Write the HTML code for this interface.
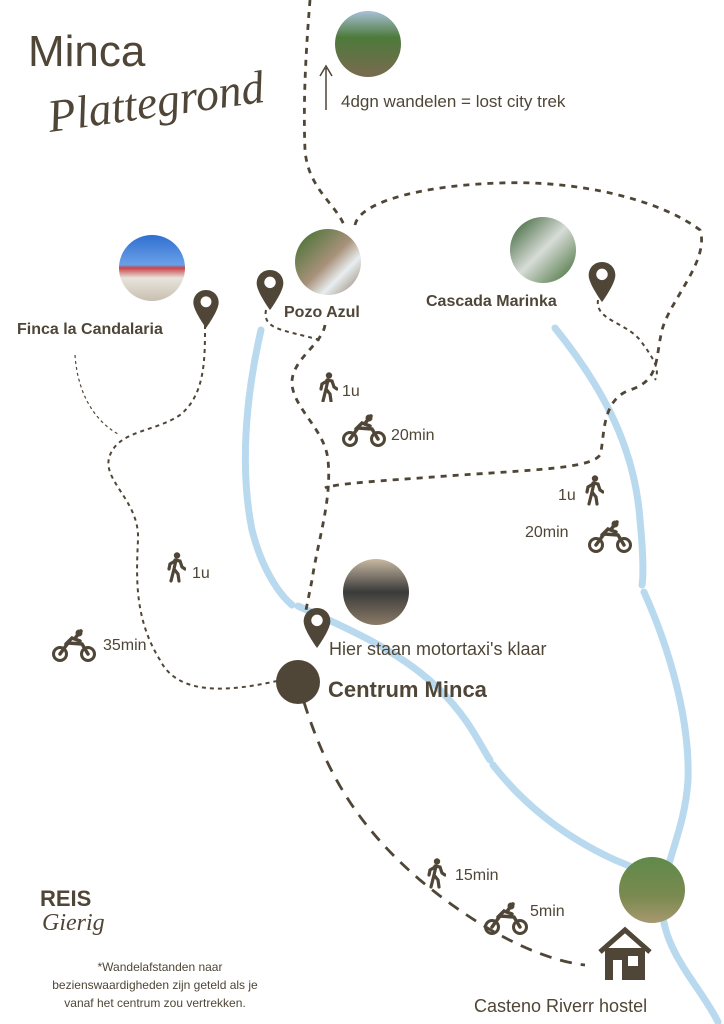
<!DOCTYPE html>
<html><head><meta charset="utf-8"><style>
body{margin:0;background:#fff}
svg{display:block}
text{font-family:"Liberation Sans",sans-serif;fill:#4f4637}
</style></head><body>
<svg width="724" height="1024" viewBox="0 0 724 1024" xmlns="http://www.w3.org/2000/svg">
<defs>
<linearGradient id="g1" x1="0" y1="0" x2="0" y2="1"><stop offset="0" stop-color="#2f6fd0"/><stop offset=".45" stop-color="#6aa0e8"/><stop offset=".5" stop-color="#c8454a"/><stop offset=".65" stop-color="#e8e4dc"/><stop offset="1" stop-color="#c8bfb0"/></linearGradient>
<linearGradient id="g2" x1="0" y1="0" x2="1" y2="1"><stop offset="0" stop-color="#3b6e2c"/><stop offset=".5" stop-color="#a8917a"/><stop offset=".7" stop-color="#e8eef0"/><stop offset="1" stop-color="#8a7560"/></linearGradient>
<linearGradient id="g3" x1="0" y1="0" x2="1" y2="1"><stop offset="0" stop-color="#2e5a2a"/><stop offset=".5" stop-color="#d8dcd8"/><stop offset="1" stop-color="#3c6a30"/></linearGradient>
<linearGradient id="g4" x1="0" y1="0" x2="0" y2="1"><stop offset="0" stop-color="#c8b9a2"/><stop offset=".5" stop-color="#3a3a3a"/><stop offset="1" stop-color="#8a7b66"/></linearGradient>
<linearGradient id="g5" x1="0" y1="0" x2="0" y2="1"><stop offset="0" stop-color="#a8c0d8"/><stop offset=".4" stop-color="#4d7a3a"/><stop offset="1" stop-color="#7a6a50"/></linearGradient>
<linearGradient id="g6" x1="0" y1="0" x2="0" y2="1"><stop offset="0" stop-color="#5f8a4a"/><stop offset=".6" stop-color="#7a8a50"/><stop offset="1" stop-color="#a89870"/></linearGradient>
<symbol id="pin" viewBox="0 0 28 42"><path d="M14 0C6 0 0 6 0 14c0 9 14 28 14 28s14-19 14-28C28 6 22 0 14 0z" fill="#4f4637"/><circle cx="14" cy="13" r="6" fill="#fff"/></symbol>
<symbol id="walk" viewBox="0 0 20 30"><circle cx="11" cy="3.5" r="3.2" fill="#4f4637"/><path d="M9 8 L14 9 L16 15 L19 17 M10 8 L8 17 L12 22 L13 29 M8 17 L5 29 M9 9 L4 12 L3 17" stroke="#4f4637" stroke-width="3.2" fill="none" stroke-linecap="round"/></symbol>
<symbol id="moto" viewBox="0 0 44 34"><circle cx="8" cy="25" r="6.5" fill="none" stroke="#4f4637" stroke-width="3"/><circle cx="36" cy="25" r="6.5" fill="none" stroke="#4f4637" stroke-width="3"/><path d="M8 25 L16 14 L30 15 L36 25 M14 15 L20 9 L28 12 M24 8 L29 2" stroke="#4f4637" stroke-width="3.5" fill="none" stroke-linecap="round"/><circle cx="27" cy="4" r="3.5" fill="#4f4637"/></symbol>
</defs>

<g fill="none" stroke="#b9d9ef" stroke-width="7" stroke-linecap="round">
<path d="M261 330 C245 400 240 470 252 530 C262 570 280 595 292 605"/>
<path d="M298 606 C340 625 400 650 440 690 C470 720 480 745 490 760"/>
<path d="M493 765 C520 800 560 835 615 860 C640 870 660 880 665 890"/>
<path d="M555 328 C605 390 635 450 640 520 C644 560 643 580 642 585"/>
<path d="M644 592 C670 650 690 720 688 780 C685 830 665 860 662 900 C660 950 700 985 718 1022"/>
</g>

<g fill="none" stroke="#4f4637" stroke-width="2.8" stroke-dasharray="6 6" stroke-linecap="butt">
<path d="M310 0 C306 50 303 100 305 150 C308 190 338 205 345 228"/>
<path d="M355 225 C360 200 430 185 500 183 C580 180 660 200 700 230 C710 260 670 300 662 330 C655 360 660 380 630 390 C600 400 605 440 600 455 C590 470 520 470 420 478 C360 482 330 485 325 488"/>
<path d="M325 325 C322 345 290 360 292 385 C295 410 325 430 328 460 C332 500 318 540 312 580 L305 615"/>
</g>
<g fill="none" stroke="#4f4637" stroke-width="2" stroke-dasharray="4 4">
<path d="M205 325 C205 360 205 395 180 415 C155 432 120 430 110 455 C100 480 140 500 138 540 C136 580 135 620 160 660 C180 700 240 690 290 678"/>
<path d="M598 300 C595 320 625 322 640 340 C655 360 660 370 655 380"/>
<path d="M266 310 C262 330 285 330 320 340"/>
</g>
<path d="M75 355 C78 400 100 425 120 435" fill="none" stroke="#4f4637" stroke-width="1.2" stroke-dasharray="3 3"/>
<path d="M298 682 C320 760 350 820 420 880 C480 930 540 960 585 965" fill="none" stroke="#4f4637" stroke-width="2.8" stroke-dasharray="12 9"/>

<path d="M326 110 L326 68 M320 76 L326 66 L332 76" stroke="#4f4637" stroke-width="1.5" fill="none"/>

<circle cx="152" cy="268" r="33" fill="url(#g1)"/>
<circle cx="328" cy="262" r="33" fill="url(#g2)"/>
<circle cx="543" cy="250" r="33" fill="url(#g3)"/>
<circle cx="376" cy="592" r="33" fill="url(#g4)"/>
<circle cx="368" cy="44" r="33" fill="url(#g5)"/>
<circle cx="652" cy="890" r="33" fill="url(#g6)"/>

<use href="#pin" x="192" y="290" width="28" height="38"/>
<use href="#pin" x="256" y="270" width="28" height="40"/>
<use href="#pin" x="588" y="262" width="28" height="40"/>
<use href="#pin" x="303" y="608" width="28" height="40"/>

<circle cx="298" cy="682" r="22" fill="#4f4637"/>

<path d="M600 952 L625 930 L650 952" stroke="#4f4637" stroke-width="5" fill="none"/>
<rect x="605" y="948" width="40" height="32" fill="#4f4637"/>
<rect x="613" y="960" width="9" height="20" fill="#fff"/>
<rect x="628" y="956" width="10" height="10" fill="#fff"/>

<use href="#walk" x="318" y="372" width="20" height="30"/>
<use href="#moto" x="342" y="414" width="44" height="34"/>
<use href="#walk" x="584" y="474" width="20" height="32"/>
<use href="#moto" x="588" y="518" width="44" height="38"/>
<use href="#walk" x="166" y="551" width="20" height="32"/>
<use href="#moto" x="52" y="628" width="44" height="36"/>
<use href="#walk" x="426" y="855" width="20" height="36"/>
<use href="#moto" x="484" y="900" width="44" height="38"/>

<text x="28" y="66" font-size="44" font-weight="300">Minca</text>
<text x="50" y="132" font-size="46" font-style="italic" style="font-family:'Liberation Serif',serif" fill="#4f4637" transform="rotate(-8 50 132)">Plattegrond</text>
<text x="341" y="107" font-size="17">4dgn wandelen = lost city trek</text>
<text x="17" y="334" font-size="16" font-weight="bold">Finca la Candalaria</text>
<text x="284" y="317" font-size="16" font-weight="bold">Pozo Azul</text>
<text x="426" y="306" font-size="16" font-weight="bold">Cascada Marinka</text>
<text x="342" y="396" font-size="16">1u</text>
<text x="391" y="440" font-size="16">20min</text>
<text x="558" y="500" font-size="16">1u</text>
<text x="525" y="537" font-size="16">20min</text>
<text x="192" y="578" font-size="16">1u</text>
<text x="103" y="650" font-size="16">35min</text>
<text x="329" y="655" font-size="18">Hier staan motortaxi's klaar</text>
<text x="328" y="697" font-size="22" font-weight="bold">Centrum Minca</text>
<text x="455" y="880" font-size="16">15min</text>
<text x="530" y="916" font-size="16">5min</text>
<text x="474" y="1012" font-size="18">Casteno Riverr hostel</text>
<text x="40" y="906" font-size="22" font-weight="bold">REIS</text>
<text x="42" y="930" font-size="24" font-style="italic" style="font-family:'Liberation Serif',serif" fill="#4f4637">Gierig</text>
<g font-size="12" text-anchor="middle"><text x="160" y="971">*Wandelafstanden naar</text><text x="155" y="989">bezienswaardigheden zijn geteld als je</text><text x="155" y="1007">vanaf het centrum zou vertrekken.</text></g>
</svg>
</body></html>
